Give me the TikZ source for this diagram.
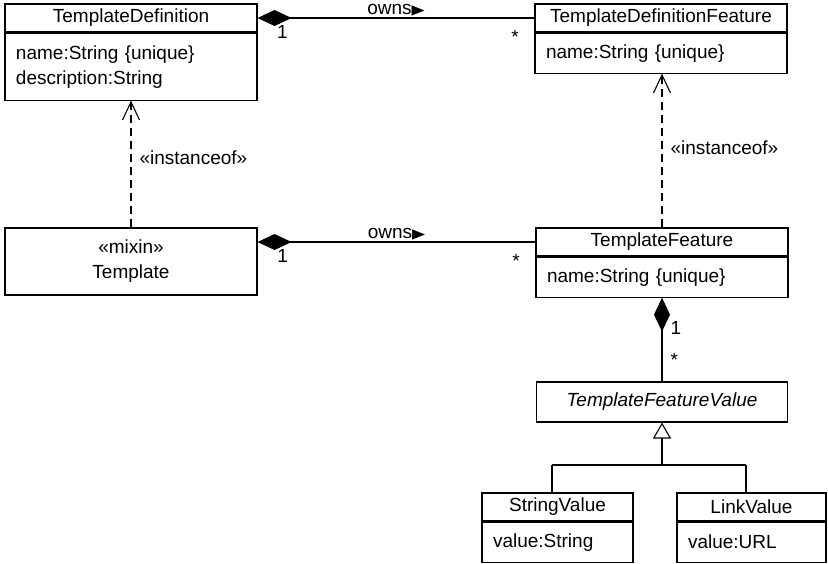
\documentclass[tikz,border=0pt]{standalone}
\usepackage{fontspec}
\usepackage{graphicx}
\setmainfont{Liberation Sans}
\newfontfamily\symfont{DejaVu Sans}
\usetikzlibrary{positioning,arrows.meta}

\newcommand\umlfont{\fontsize{19pt}{25pt}\selectfont}
\newcommand\ownsarrow{\smash{\scalebox{1}[0.8]{\symfont\fontsize{17pt}{17pt}\selectfont ▶}}}

\tikzset{
  classname/.style={draw, rectangle, minimum width=252pt, minimum height=28pt, inner sep=0pt},
  classattr/.style={draw, rectangle, text width=230pt, inner xsep=11pt, inner ysep=0pt, minimum height=40pt, align=left},
  mult/.style={inner sep=2pt},
  composite/.style={arrows={Diamond[length=34pt,width=16pt]-}},
  instanceof/.style={dash pattern=on 8pt off 5pt, -{Straight Barb[length=18pt,width=17pt]}},
  generalize/.style={-{Triangle[length=16pt,width=18pt,fill=white]}},
}

\begin{document}
\begin{tikzpicture}[x=1pt, y=-1pt, line width=1.1pt, font=\umlfont]
    \useasboundingbox (0,0) rectangle (828,563);

    % draw classes
    \node[classname] (tdef) at (131,18) {TemplateDefinition};
    \node[classattr, minimum height=67pt, below=0pt of tdef] (tdefattr) {name:String \{unique\}\\description:String};
    \node[classname] (tdf) at (661,18) {TemplateDefinitionFeature};
    \node[classattr, below=0pt of tdf] (tdfattr) {name:String \{unique\}};

    \node[classname, minimum height=67pt, align=center] (tmpl) at (131,261.5) {«mixin»\\Template};
    \node[classname] (tf) at (662,242) {TemplateFeature};
    \node[classattr, below=0pt of tf] (tfattr) {name:String \{unique\}};

    \node[classname, minimum width=251pt, minimum height=40pt, font=\umlfont\itshape] (tfv) at (662,402) {TemplateFeatureValue};
    \node[classname, minimum width=151pt] (sval) at (557.5,507) {StringValue};
    \node[classattr, text width=129pt, below=0pt of sval] (svalattr) {value:String};
    \node[classname, minimum width=149pt] (lval) at (751.5,507) {LinkValue};
    \node[classattr, text width=127pt, below=0pt of lval] (lvalattr) {value:URL};

    % draw compositions
    \draw[composite] (tdef.east) -- (tdf.west)
        node[midway, above=1pt, inner sep=2pt] {owns\ownsarrow}
        node[mult, pos=0.09, below=5pt] {1}
        node[mult, pos=0.93, below=10pt] {*};
    \draw[composite] (tf.west -| tmpl.east) -- (tf.west)
        node[midway, above=1pt, inner sep=2pt] {owns\ownsarrow}
        node[mult, pos=0.09, below=5pt] {1}
        node[mult, pos=0.93, below=10pt] {*};
    \draw[composite] (tfattr.south) -- (tfv.north)
        node[mult, pos=0.36, right=6pt] {1}
        node[mult, pos=0.74, right=6pt] {*};

    % draw instanceof dependencies
    \draw[instanceof] (tmpl.north) -- (tdefattr.south) node[pos=0.55, right=6pt, inner sep=2pt] {«instanceof»};
    \draw[instanceof] (tf.north) -- (tf.north |- tdfattr.south) node[pos=0.52, right=6pt, inner sep=2pt] {«instanceof»};

    % draw generalization
    \coordinate (fork) at (662,465);
    \coordinate (forkS) at (552,465);
    \coordinate (forkL) at (746,465);
    \draw[generalize] (fork) -- (tfv.south);
    \draw (forkS) -- (forkL);
    \draw (forkS) -- (forkS |- sval.north);
    \draw (forkL) -- (forkL |- lval.north);
\end{tikzpicture}
\end{document}
